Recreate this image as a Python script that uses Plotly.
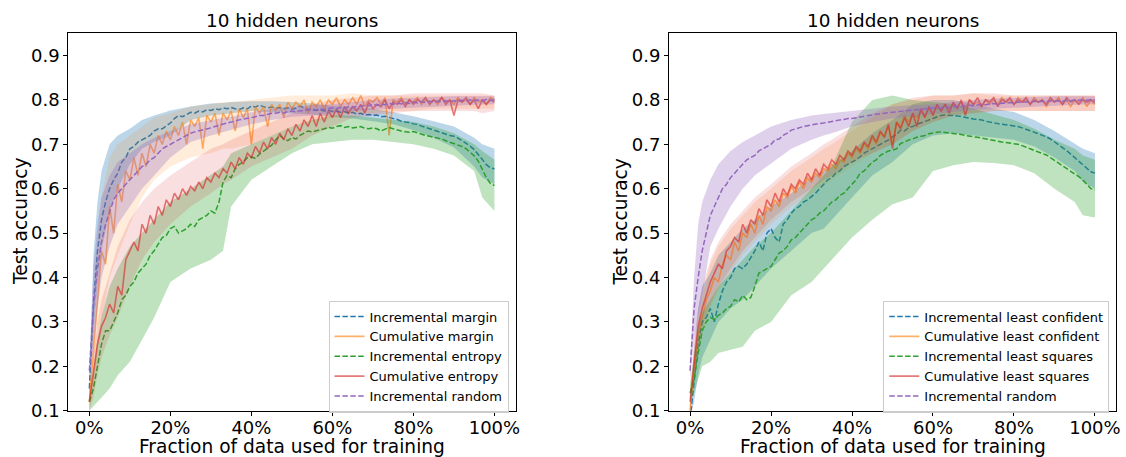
import numpy as np
import plotly.graph_objects as go

# ---------------- data ----------------
X = np.linspace(0, 1, 101)  # fraction of data used for training (sampling grid)
BX = [0, 0.01, 0.02, 0.03, 0.05, 0.07, 0.1, 0.13, 0.16, 0.2, 0.25, 0.3, 0.33, 0.35,
      0.4, 0.45, 0.5, 0.55, 0.6, 0.65, 0.7, 0.75, 0.8, 0.85, 0.9, 0.95, 0.97, 1.0]

X_TICKS = [0, 0.2, 0.4, 0.6, 0.8, 1.0]
X_TICK_TEXT = ["0%", "20%", "40%", "60%", "80%", "100%"]
Y_TICKS = [0.1, 0.2, 0.3, 0.4, 0.5, 0.6, 0.7, 0.8, 0.9]

TITLE = "10 hidden neurons"
X_TITLE = "Fraction of data used for training"
Y_TITLE = "Test accuracy"

# ----- left panel -----
L_NAMES = ["Incremental margin", "Cumulative margin", "Incremental entropy",
           "Cumulative entropy", "Incremental random"]

L_INC_MARGIN = [
    0.15, 0.34, 0.46, 0.53, 0.57, 0.60, 0.62, 0.635, 0.66, 0.67,
    0.69, 0.695, 0.705, 0.71, 0.715, 0.72, 0.73, 0.735, 0.735, 0.742,
    0.748, 0.758, 0.765, 0.762, 0.768, 0.772, 0.77, 0.775, 0.773, 0.778,
    0.776, 0.78, 0.778, 0.782, 0.78, 0.783, 0.78, 0.778, 0.782, 0.78,
    0.786, 0.784, 0.788, 0.785, 0.782, 0.784, 0.781, 0.783, 0.78, 0.782,
    0.779, 0.781, 0.786, 0.782, 0.778, 0.78, 0.776, 0.778, 0.775, 0.777,
    0.774, 0.775, 0.772, 0.774, 0.77, 0.772, 0.768, 0.77, 0.766, 0.767,
    0.765, 0.766, 0.762, 0.763, 0.76, 0.758, 0.756, 0.752, 0.75, 0.749,
    0.746, 0.745, 0.741, 0.738, 0.735, 0.732, 0.728, 0.725, 0.722, 0.72,
    0.718, 0.714, 0.708, 0.702, 0.696, 0.688, 0.678, 0.666, 0.654, 0.647,
    0.645]
L_INC_MARGIN_HI = [0.17, 0.45, 0.57, 0.64, 0.70, 0.72, 0.735, 0.755, 0.765, 0.776, 0.785, 0.792, 0.793, 0.795,
                   0.797, 0.797, 0.795, 0.792, 0.787, 0.784, 0.78, 0.772, 0.763, 0.752, 0.74, 0.715, 0.70, 0.69]
L_INC_MARGIN_LO = [0.13, 0.27, 0.38, 0.46, 0.55, 0.60, 0.655, 0.69, 0.705, 0.72, 0.755, 0.765, 0.768, 0.77,
                   0.775, 0.772, 0.77, 0.767, 0.762, 0.758, 0.752, 0.745, 0.732, 0.715, 0.693, 0.65, 0.625, 0.61]

L_CUM_MARGIN = [
    0.12, 0.24, 0.34, 0.46, 0.43, 0.56, 0.50, 0.61, 0.57, 0.64,
    0.62, 0.67, 0.63, 0.68, 0.65, 0.70, 0.68, 0.72, 0.70, 0.73,
    0.71, 0.74, 0.72, 0.75, 0.70, 0.755, 0.74, 0.76, 0.69, 0.765,
    0.75, 0.77, 0.72, 0.77, 0.755, 0.775, 0.73, 0.78, 0.76, 0.78,
    0.70, 0.785, 0.77, 0.785, 0.74, 0.79, 0.775, 0.79, 0.76, 0.795,
    0.78, 0.795, 0.785, 0.80, 0.77, 0.795, 0.785, 0.80, 0.78, 0.80,
    0.79, 0.805, 0.785, 0.80, 0.79, 0.805, 0.79, 0.81, 0.785, 0.80,
    0.795, 0.805, 0.79, 0.805, 0.72, 0.80, 0.795, 0.805, 0.79, 0.80,
    0.795, 0.805, 0.79, 0.80, 0.795, 0.80, 0.79, 0.805, 0.795, 0.80,
    0.79, 0.805, 0.795, 0.80, 0.79, 0.805, 0.795, 0.80, 0.79, 0.805,
    0.80]
L_CUM_MARGIN_HI = [0.14, 0.35, 0.48, 0.58, 0.67, 0.70, 0.72, 0.74, 0.76, 0.77, 0.785, 0.79, 0.795, 0.795,
                   0.80, 0.805, 0.81, 0.81, 0.81, 0.815, 0.81, 0.81, 0.81, 0.81, 0.81, 0.81, 0.81, 0.81]
L_CUM_MARGIN_LO = [0.10, 0.15, 0.22, 0.30, 0.40, 0.45, 0.52, 0.58, 0.62, 0.65, 0.67, 0.68, 0.69, 0.69,
                   0.70, 0.72, 0.74, 0.75, 0.76, 0.77, 0.77, 0.775, 0.775, 0.78, 0.78, 0.78, 0.78, 0.78]

L_INC_ENTROPY = [
    0.12, 0.15, 0.20, 0.25, 0.28, 0.28, 0.30, 0.32, 0.35, 0.36,
    0.38, 0.39, 0.41, 0.42, 0.43, 0.45, 0.46, 0.475, 0.49, 0.495,
    0.51, 0.515, 0.50, 0.505, 0.51, 0.52, 0.515, 0.53, 0.535, 0.54,
    0.55, 0.545, 0.57, 0.615, 0.63, 0.625, 0.645, 0.655, 0.66, 0.67,
    0.672, 0.668, 0.678, 0.685, 0.69, 0.698, 0.71, 0.72, 0.712, 0.708,
    0.715, 0.712, 0.72, 0.725, 0.73, 0.728, 0.73, 0.732, 0.735, 0.738,
    0.736, 0.74, 0.742, 0.738, 0.74, 0.737, 0.738, 0.74, 0.736, 0.735,
    0.737, 0.735, 0.73, 0.734, 0.738, 0.735, 0.732, 0.73, 0.728, 0.727,
    0.729, 0.726, 0.722, 0.72, 0.718, 0.716, 0.713, 0.712, 0.708, 0.705,
    0.702, 0.698, 0.695, 0.69, 0.682, 0.674, 0.662, 0.645, 0.625, 0.612,
    0.607]
L_INC_ENTROPY_HI = [0.13, 0.20, 0.26, 0.31, 0.38, 0.42, 0.47, 0.50, 0.53, 0.57, 0.60, 0.63, 0.65, 0.68,
                    0.70, 0.72, 0.74, 0.755, 0.765, 0.765, 0.76, 0.755, 0.75, 0.74, 0.725, 0.70, 0.685, 0.665]
L_INC_ENTROPY_LO = [0.10, 0.11, 0.12, 0.13, 0.15, 0.18, 0.21, 0.26, 0.31, 0.39, 0.42, 0.44, 0.46, 0.56,
                    0.62, 0.65, 0.68, 0.70, 0.705, 0.71, 0.71, 0.705, 0.70, 0.69, 0.675, 0.64, 0.58, 0.55]

L_CUM_ENTROPY = [
    0.12, 0.18, 0.25, 0.29, 0.31, 0.34, 0.32, 0.38, 0.36, 0.44,
    0.46, 0.48, 0.46, 0.52, 0.50, 0.54, 0.52, 0.56, 0.54, 0.575,
    0.56, 0.59, 0.575, 0.60, 0.585, 0.605, 0.595, 0.615, 0.60, 0.625,
    0.615, 0.635, 0.625, 0.645, 0.635, 0.66, 0.645, 0.67, 0.655, 0.68,
    0.67, 0.695, 0.68, 0.705, 0.69, 0.715, 0.70, 0.725, 0.71, 0.735,
    0.72, 0.745, 0.73, 0.755, 0.74, 0.765, 0.74, 0.77, 0.75, 0.775,
    0.76, 0.78, 0.76, 0.785, 0.77, 0.785, 0.775, 0.79, 0.77, 0.795,
    0.78, 0.79, 0.785, 0.80, 0.78, 0.795, 0.79, 0.80, 0.785, 0.80,
    0.79, 0.80, 0.795, 0.805, 0.79, 0.80, 0.795, 0.805, 0.79, 0.80,
    0.765, 0.80, 0.795, 0.805, 0.79, 0.80, 0.78, 0.80, 0.79, 0.80,
    0.795]
L_CUM_ENTROPY_HI = [0.14, 0.22, 0.30, 0.35, 0.41, 0.47, 0.53, 0.57, 0.60, 0.63, 0.66, 0.69, 0.70, 0.71,
                    0.73, 0.75, 0.77, 0.79, 0.80, 0.805, 0.81, 0.81, 0.815, 0.815, 0.815, 0.815, 0.815, 0.81]
L_CUM_ENTROPY_LO = [0.10, 0.13, 0.18, 0.22, 0.27, 0.31, 0.38, 0.44, 0.48, 0.52, 0.56, 0.59, 0.61, 0.62,
                    0.65, 0.67, 0.69, 0.72, 0.74, 0.76, 0.765, 0.77, 0.775, 0.775, 0.775, 0.775, 0.77, 0.775]

L_INC_RANDOM = [
    0.19, 0.33, 0.42, 0.48, 0.52, 0.55, 0.575, 0.59, 0.60, 0.61,
    0.62, 0.63, 0.64, 0.65, 0.655, 0.665, 0.67, 0.68, 0.69, 0.695,
    0.70, 0.705, 0.71, 0.715, 0.72, 0.725, 0.728, 0.73, 0.733, 0.735,
    0.737, 0.74, 0.743, 0.746, 0.748, 0.75, 0.753, 0.755, 0.757, 0.758,
    0.76, 0.762, 0.765, 0.765, 0.768, 0.77, 0.77, 0.772, 0.77, 0.774,
    0.775, 0.773, 0.776, 0.775, 0.778, 0.776, 0.778, 0.78, 0.778, 0.78,
    0.782, 0.78, 0.783, 0.782, 0.785, 0.783, 0.786, 0.785, 0.788, 0.787,
    0.79, 0.788, 0.79, 0.789, 0.792, 0.79, 0.793, 0.791, 0.794, 0.792,
    0.795, 0.793, 0.796, 0.794, 0.797, 0.795, 0.797, 0.796, 0.798, 0.796,
    0.798, 0.797, 0.799, 0.797, 0.80, 0.798, 0.80, 0.798, 0.801, 0.799,
    0.80]
L_INC_RANDOM_HI = [0.21, 0.42, 0.52, 0.58, 0.63, 0.66, 0.68, 0.70, 0.715, 0.73, 0.745, 0.755, 0.76, 0.762,
                   0.772, 0.78, 0.785, 0.788, 0.79, 0.795, 0.80, 0.803, 0.805, 0.807, 0.808, 0.808, 0.808, 0.808]
L_INC_RANDOM_LO = [0.17, 0.24, 0.33, 0.40, 0.47, 0.52, 0.56, 0.60, 0.63, 0.67, 0.705, 0.72, 0.728, 0.732,
                   0.745, 0.755, 0.762, 0.765, 0.77, 0.775, 0.778, 0.78, 0.783, 0.785, 0.787, 0.789, 0.79, 0.79]

# ----- right panel -----
R_NAMES = ["Incremental least confident", "Cumulative least confident",
           "Incremental least squares", "Cumulative least squares", "Incremental random"]

R_INC_LC = [
    0.08, 0.17, 0.25, 0.30, 0.31, 0.33, 0.30, 0.34, 0.37, 0.39,
    0.40, 0.42, 0.425, 0.42, 0.43, 0.445, 0.46, 0.48, 0.46, 0.50,
    0.51, 0.49, 0.48, 0.52, 0.53, 0.545, 0.555, 0.56, 0.57, 0.575,
    0.582, 0.59, 0.60, 0.61, 0.62, 0.625, 0.635, 0.64, 0.65, 0.655,
    0.66, 0.665, 0.672, 0.68, 0.685, 0.69, 0.695, 0.70, 0.705, 0.71,
    0.717, 0.722, 0.732, 0.73, 0.738, 0.74, 0.745, 0.748, 0.752, 0.755,
    0.758, 0.762, 0.765, 0.766, 0.766, 0.765, 0.764, 0.762, 0.76, 0.758,
    0.757, 0.756, 0.755, 0.752, 0.75, 0.748, 0.746, 0.745, 0.744, 0.743,
    0.742, 0.74, 0.737, 0.734, 0.731, 0.728, 0.724, 0.72, 0.717, 0.712,
    0.706, 0.70, 0.694, 0.686, 0.678, 0.67, 0.662, 0.654, 0.645, 0.638,
    0.635]
R_INC_LC_HI = [0.10, 0.24, 0.33, 0.38, 0.41, 0.45, 0.48, 0.51, 0.53, 0.56, 0.59, 0.625, 0.64, 0.65,
               0.685, 0.725, 0.755, 0.79, 0.80, 0.80, 0.79, 0.78, 0.773, 0.755, 0.73, 0.70, 0.69, 0.68]
R_INC_LC_LO = [0.08, 0.12, 0.18, 0.22, 0.26, 0.30, 0.33, 0.35, 0.38, 0.42, 0.46, 0.50, 0.51, 0.53,
               0.58, 0.63, 0.66, 0.70, 0.72, 0.725, 0.72, 0.715, 0.71, 0.695, 0.67, 0.64, 0.615, 0.60]

R_CUM_LC = [
    0.10, 0.20, 0.27, 0.31, 0.35, 0.37, 0.40, 0.39, 0.43, 0.45,
    0.44, 0.48, 0.46, 0.50, 0.49, 0.52, 0.50, 0.54, 0.52, 0.56,
    0.55, 0.575, 0.56, 0.59, 0.58, 0.605, 0.59, 0.615, 0.60, 0.625,
    0.615, 0.635, 0.625, 0.645, 0.64, 0.655, 0.645, 0.665, 0.66, 0.68,
    0.67, 0.69, 0.68, 0.70, 0.69, 0.715, 0.70, 0.725, 0.72, 0.74,
    0.70, 0.75, 0.74, 0.765, 0.75, 0.77, 0.76, 0.775, 0.765, 0.78,
    0.77, 0.785, 0.775, 0.79, 0.78, 0.79, 0.785, 0.795, 0.78, 0.80,
    0.79, 0.795, 0.785, 0.80, 0.79, 0.80, 0.79, 0.805, 0.795, 0.80,
    0.79, 0.805, 0.795, 0.80, 0.79, 0.805, 0.795, 0.80, 0.785, 0.80,
    0.795, 0.805, 0.79, 0.80, 0.785, 0.80, 0.795, 0.805, 0.785, 0.80,
    0.79]
R_CUM_LC_HI = [0.12, 0.24, 0.31, 0.36, 0.43, 0.47, 0.51, 0.54, 0.57, 0.60, 0.64, 0.67, 0.69, 0.70,
               0.73, 0.76, 0.79, 0.80, 0.81, 0.81, 0.815, 0.81, 0.81, 0.81, 0.81, 0.81, 0.81, 0.81]
R_CUM_LC_LO = [0.09, 0.16, 0.22, 0.27, 0.33, 0.37, 0.41, 0.45, 0.48, 0.52, 0.56, 0.59, 0.61, 0.62,
               0.65, 0.68, 0.70, 0.73, 0.75, 0.765, 0.77, 0.775, 0.775, 0.775, 0.775, 0.775, 0.775, 0.775]

R_INC_LS = [
    0.14, 0.17, 0.23, 0.28, 0.30, 0.31, 0.305, 0.315, 0.32, 0.33,
    0.335, 0.35, 0.345, 0.36, 0.35, 0.355, 0.38, 0.41, 0.415, 0.42,
    0.425, 0.44, 0.455, 0.46, 0.47, 0.485, 0.49, 0.50, 0.51, 0.52,
    0.53, 0.535, 0.545, 0.55, 0.56, 0.57, 0.575, 0.585, 0.59, 0.60,
    0.61, 0.62, 0.635, 0.64, 0.65, 0.66, 0.665, 0.675, 0.68, 0.685,
    0.687, 0.69, 0.702, 0.705, 0.71, 0.712, 0.716, 0.718, 0.72, 0.724,
    0.726, 0.727, 0.728, 0.727, 0.726, 0.725, 0.724, 0.722, 0.72, 0.718,
    0.717, 0.716, 0.714, 0.712, 0.71, 0.708, 0.706, 0.705, 0.704, 0.703,
    0.702, 0.70, 0.697, 0.694, 0.69, 0.686, 0.683, 0.68, 0.676, 0.67,
    0.664, 0.658, 0.652, 0.646, 0.64, 0.634, 0.627, 0.62, 0.61, 0.60,
    0.597]
R_INC_LS_HI = [0.16, 0.22, 0.29, 0.32, 0.35, 0.38, 0.41, 0.44, 0.47, 0.50, 0.55, 0.60, 0.63, 0.65,
               0.75, 0.80, 0.81, 0.80, 0.795, 0.79, 0.78, 0.768, 0.755, 0.735, 0.71, 0.69, 0.675, 0.665]
R_INC_LS_LO = [0.12, 0.14, 0.17, 0.20, 0.21, 0.23, 0.237, 0.244, 0.28, 0.30, 0.36, 0.39, 0.42, 0.44,
               0.49, 0.53, 0.565, 0.58, 0.64, 0.653, 0.66, 0.658, 0.653, 0.635, 0.60, 0.57, 0.54, 0.535]

R_CUM_LS = [
    0.12, 0.21, 0.29, 0.33, 0.36, 0.39, 0.41, 0.43, 0.42, 0.46,
    0.47, 0.49, 0.48, 0.52, 0.50, 0.53, 0.52, 0.555, 0.54, 0.575,
    0.56, 0.59, 0.57, 0.60, 0.585, 0.61, 0.60, 0.62, 0.61, 0.635,
    0.62, 0.645, 0.63, 0.655, 0.645, 0.665, 0.655, 0.675, 0.665, 0.685,
    0.675, 0.695, 0.685, 0.705, 0.695, 0.72, 0.705, 0.73, 0.715, 0.745,
    0.69, 0.75, 0.735, 0.76, 0.74, 0.77, 0.74, 0.78, 0.76, 0.785,
    0.765, 0.79, 0.775, 0.79, 0.77, 0.795, 0.78, 0.80, 0.765, 0.80,
    0.79, 0.805, 0.785, 0.80, 0.795, 0.805, 0.785, 0.80, 0.795, 0.805,
    0.79, 0.80, 0.795, 0.805, 0.79, 0.80, 0.795, 0.80, 0.79, 0.805,
    0.795, 0.80, 0.79, 0.805, 0.795, 0.80, 0.79, 0.80, 0.795, 0.80,
    0.795]
R_CUM_LS_HI = [0.14, 0.26, 0.33, 0.38, 0.44, 0.48, 0.52, 0.55, 0.58, 0.61, 0.65, 0.68, 0.70, 0.71,
               0.74, 0.77, 0.79, 0.805, 0.81, 0.81, 0.815, 0.815, 0.81, 0.81, 0.81, 0.81, 0.81, 0.81]
R_CUM_LS_LO = [0.10, 0.17, 0.24, 0.29, 0.34, 0.38, 0.42, 0.46, 0.49, 0.53, 0.57, 0.60, 0.62, 0.63,
               0.66, 0.68, 0.70, 0.73, 0.75, 0.765, 0.77, 0.775, 0.775, 0.775, 0.775, 0.775, 0.775, 0.775]

R_INC_RANDOM = [
    0.19, 0.33, 0.40, 0.46, 0.50, 0.54, 0.56, 0.58, 0.60, 0.61,
    0.625, 0.635, 0.645, 0.655, 0.665, 0.67, 0.675, 0.685, 0.69, 0.695,
    0.70, 0.71, 0.712, 0.72, 0.725, 0.732, 0.735, 0.738, 0.74, 0.742,
    0.744, 0.745, 0.747, 0.748, 0.75, 0.751, 0.753, 0.755, 0.756, 0.758,
    0.758, 0.76, 0.762, 0.763, 0.765, 0.766, 0.768, 0.769, 0.77, 0.771,
    0.772, 0.773, 0.774, 0.775, 0.776, 0.777, 0.778, 0.779, 0.78, 0.781,
    0.782, 0.781, 0.783, 0.784, 0.783, 0.785, 0.786, 0.785, 0.787, 0.788,
    0.787, 0.789, 0.79, 0.789, 0.791, 0.792, 0.79, 0.793, 0.792, 0.794,
    0.793, 0.795, 0.794, 0.796, 0.795, 0.797, 0.796, 0.797, 0.796, 0.798,
    0.797, 0.798, 0.797, 0.799, 0.798, 0.80, 0.799, 0.80, 0.799, 0.801,
    0.80]
R_INC_RANDOM_HI = [0.21, 0.40, 0.52, 0.57, 0.62, 0.655, 0.685, 0.705, 0.72, 0.74, 0.755, 0.765, 0.768, 0.77,
                   0.775, 0.78, 0.785, 0.788, 0.79, 0.795, 0.80, 0.803, 0.805, 0.807, 0.808, 0.808, 0.808, 0.808]
R_INC_RANDOM_LO = [0.17, 0.26, 0.31, 0.36, 0.47, 0.51, 0.56, 0.60, 0.63, 0.657, 0.69, 0.71, 0.72, 0.725,
                   0.74, 0.75, 0.758, 0.763, 0.768, 0.773, 0.777, 0.78, 0.783, 0.785, 0.787, 0.789, 0.79, 0.79]

# ---------------- styling ----------------
COLORS = [(31, 119, 180), (255, 127, 14), (44, 160, 44), (214, 39, 40), (148, 103, 189)]
DASHED = [True, False, True, False, True]
FONT = "DejaVu Sans"
W, H = 1126, 457

LEFT = [(L_INC_MARGIN, L_INC_MARGIN_LO, L_INC_MARGIN_HI),
        (L_CUM_MARGIN, L_CUM_MARGIN_LO, L_CUM_MARGIN_HI),
        (L_INC_ENTROPY, L_INC_ENTROPY_LO, L_INC_ENTROPY_HI),
        (L_CUM_ENTROPY, L_CUM_ENTROPY_LO, L_CUM_ENTROPY_HI),
        (L_INC_RANDOM, L_INC_RANDOM_LO, L_INC_RANDOM_HI)]
RIGHT = [(R_INC_LC, R_INC_LC_LO, R_INC_LC_HI),
         (R_CUM_LC, R_CUM_LC_LO, R_CUM_LC_HI),
         (R_INC_LS, R_INC_LS_LO, R_INC_LS_HI),
         (R_CUM_LS, R_CUM_LS_LO, R_CUM_LS_HI),
         (R_INC_RANDOM, R_INC_RANDOM_LO, R_INC_RANDOM_HI)]

fig = go.Figure()


def add_panel(series, names, xa, ya, legend):
    for (mean, lo, hi), name, col, dashed in zip(series, names, COLORS, DASHED):
        r, g, b = col
        band_alpha = 0.3 if dashed else 0.15
        fig.add_trace(go.Scatter(
            x=list(BX) + list(BX[::-1]), y=list(hi) + list(lo[::-1]),
            fill="toself", mode="lines", line=dict(width=0),
            fillcolor=f"rgba({r},{g},{b},{band_alpha})",
            hoverinfo="skip", showlegend=False, xaxis=xa, yaxis=ya))
        if dashed:
            line = dict(color=f"rgb({r},{g},{b})", width=1.5, dash="5.5px,2.4px")
        else:
            line = dict(color=f"rgba({r},{g},{b},0.62)", width=1.6)
        fig.add_trace(go.Scatter(x=X, y=mean, mode="lines", line=line, name=name,
                                 xaxis=xa, yaxis=ya, legend=legend))


add_panel(LEFT, L_NAMES, "x", "y", "legend")
add_panel(RIGHT, R_NAMES, "x2", "y2", "legend2")

axis_common = dict(showline=True, mirror=True, linecolor="black", linewidth=1,
                   ticks="outside", ticklen=4, tickwidth=1, tickcolor="black",
                   showgrid=False, zeroline=False, automargin=False,
                   tickfont=dict(family=FONT, size=18, color="black"))

legend_common = dict(bgcolor="rgba(255,255,255,0.8)", bordercolor="#cccccc", borderwidth=1,
                     font=dict(family=FONT, size=13, color="black"),
                     xanchor="right", yanchor="top", y=1 - 300.5 / H, tracegroupgap=0)

Y_DOM = [1 - 410.7 / H, 1 - 33.3 / H]

fig.update_layout(
    width=W, height=H, autosize=False,
    margin=dict(l=0, r=0, t=0, b=0, pad=0, autoexpand=False),
    paper_bgcolor="white", plot_bgcolor="white",
    xaxis=dict(domain=[68.3 / W, 515.5 / W], range=[-0.052, 1.052], ticklabelstandoff=-3,
               tickvals=X_TICKS, ticktext=X_TICK_TEXT, anchor="y", **axis_common),
    yaxis=dict(domain=Y_DOM, range=[0.1, 0.95], tickvals=Y_TICKS,
               tickformat=".1f", anchor="x", **axis_common),
    xaxis2=dict(domain=[669 / W, 1116 / W], range=[-0.052, 1.052], ticklabelstandoff=-3,
                tickvals=X_TICKS, ticktext=X_TICK_TEXT, anchor="y2", **axis_common),
    yaxis2=dict(domain=Y_DOM, range=[0.1, 0.95], tickvals=Y_TICKS,
                tickformat=".1f", anchor="x2", **axis_common),
    legend=dict(x=508.5 / W, **legend_common),
    legend2=dict(x=1109.3 / W, **legend_common),
    showlegend=True,
)

annotations = []
for xc, ylab_x in [((68.3 + 515.5) / 2 / W, 20 / W), ((669 + 1116) / 2 / W, 619.6 / W)]:
    annotations.append(dict(text=TITLE, x=xc, y=1 - 20.7 / H, xref="paper", yref="paper",
                            xanchor="center", yanchor="middle", showarrow=False,
                            font=dict(family=FONT, size=18.4, color="black")))
    annotations.append(dict(text=X_TITLE, x=xc, y=1 - 446.7 / H, xref="paper", yref="paper",
                            xanchor="center", yanchor="middle", showarrow=False,
                            font=dict(family=FONT, size=18.6, color="black")))
    annotations.append(dict(text=Y_TITLE, x=ylab_x, y=1 - 222 / H, xref="paper", yref="paper",
                            xanchor="center", yanchor="middle", showarrow=False, textangle=-90,
                            font=dict(family=FONT, size=18.6, color="black")))
fig.update_layout(annotations=annotations)

fig.write_html("out.html")
